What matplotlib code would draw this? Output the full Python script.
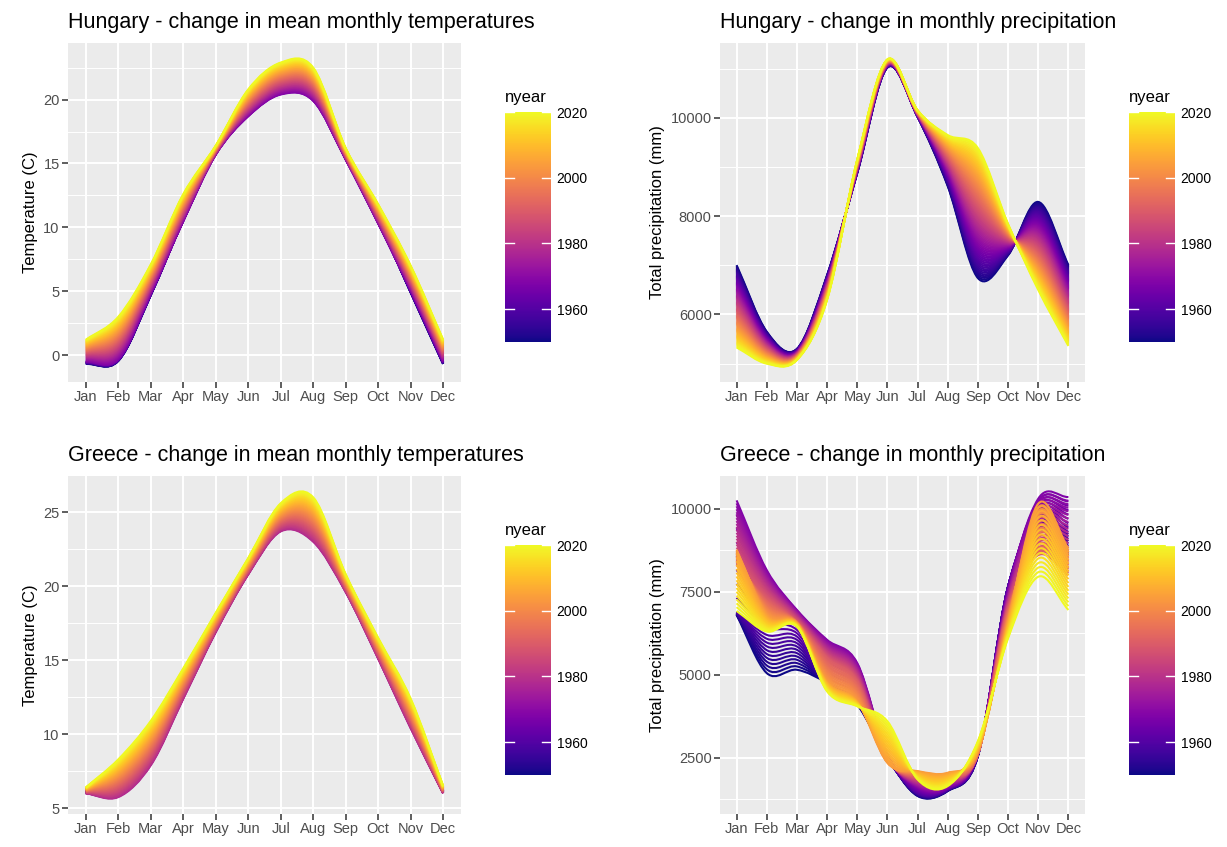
import numpy as np
import matplotlib.pyplot as plt
from matplotlib.path import Path
from matplotlib.patches import PathPatch
from matplotlib.ticker import MultipleLocator
from matplotlib.colors import Normalize
from matplotlib.cm import ScalarMappable

plt.rcParams['font.family'] = ['Liberation Sans', 'DejaVu Sans']

months = ["Jan", "Feb", "Mar", "Apr", "May", "Jun",
          "Jul", "Aug", "Sep", "Oct", "Nov", "Dec"]
month_num = np.arange(1, 13)
years = np.arange(1950, 2021)

# Hungary - mean monthly temperature (C), read at a few key years
hu_temp_years = [1950, 1968, 2020]
hu_temp_1950 = [-0.7, -0.45, 4.7, 10.6, 15.9, 19.0, 20.8, 20.3, 15.6, 10.6, 4.9, -0.7]
hu_temp_1968 = [-0.5, -0.3, 4.85, 10.5, 15.7, 18.7, 20.4, 19.9, 15.3, 10.3, 5.1, -0.5]
hu_temp_2020 = [1.2, 3.0, 7.1, 12.6, 16.4, 20.8, 22.9, 22.5, 16.2, 11.8, 7.0, 1.2]

# Hungary - total monthly precipitation (mm)
hu_prec_years = [1950, 2020]
hu_prec_1950 = [7005, 5650, 5300, 6800, 8880, 11025, 10020, 8610, 6740, 7205, 8290, 7005]
hu_prec_2020 = [5330, 5000, 5075, 6300, 9150, 11190, 10155, 9650, 9385, 7840, 6500, 5360]

# Greece - mean monthly temperature (C)
gr_temp_years = [1950, 1978, 2020]
gr_temp_1950 = [6.15, 6.7, 9.1, 13.2, 17.4, 21.2, 24.5, 24.2, 20.1, 15.7, 11.2, 6.2]
gr_temp_1978 = [6.0, 5.75, 7.9, 12.4, 16.9, 20.8, 23.7, 23.0, 19.6, 15.1, 10.4, 6.0]
gr_temp_2020 = [6.4, 8.3, 10.9, 14.45, 18.2, 21.9, 25.6, 26.0, 20.8, 16.5, 12.4, 6.5]

# Greece - total monthly precipitation (mm)
gr_prec_years = [1950, 1960, 1968, 1990, 2004, 2020]
gr_prec_1950 = [6800, 5050, 5150, 4750, 4100, 2500, 1350, 1500, 2550, 7650, 9300, 8600]
gr_prec_1960 = [6900, 6200, 6150, 4800, 4200, 2500, 1450, 1550, 2600, 7650, 9800, 9300]
gr_prec_1968 = [10250, 8150, 6950, 6050, 5350, 2600, 1600, 1600, 2650, 7500, 10300, 10350]
gr_prec_1990 = [8300, 7300, 6600, 5500, 4800, 2450, 1900, 1900, 2600, 7000, 8600, 8000]
gr_prec_2004 = [8770, 6800, 6550, 4800, 4200, 2350, 2100, 2050, 2700, 6600, 10150, 8800]
gr_prec_2020 = [6920, 6300, 6450, 4500, 4050, 3600, 1850, 1650, 3000, 6100, 7950, 6950]

cmap = plt.get_cmap('plasma')
norm = Normalize(1950, 2020)


def smooth_path(x, y):
    # Catmull-Rom through the monthly points, drawn as cubic Bezier segments
    pts = np.column_stack([np.asarray(x, float), np.asarray(y, float)])
    tan = np.empty_like(pts)
    tan[1:-1] = (pts[2:] - pts[:-2]) / 2
    tan[0] = pts[1] - pts[0]
    tan[-1] = pts[-1] - pts[-2]
    verts = [pts[0]]
    codes = [Path.MOVETO]
    for i in range(len(pts) - 1):
        verts += [pts[i] + tan[i] / 3, pts[i + 1] - tan[i + 1] / 3, pts[i + 1]]
        codes += [Path.CURVE4] * 3
    return Path(verts, codes)


def draw_panel(rect, crect, key_years, key_values, title, ylabel, yticks):
    ax = fig.add_axes(rect)
    key_values = np.array(key_values, float)
    curves = np.array([np.interp(years, key_years, key_values[:, m])
                       for m in range(12)]).T
    for yr, vals in zip(years, curves):
        ax.add_patch(PathPatch(smooth_path(month_num, vals), facecolor='none',
                               edgecolor=cmap(norm(yr)), lw=1.5))
    ax.margins(x=0.05, y=0.05)
    ax.autoscale_view()

    ax.set_facecolor('#EBEBEB')
    for s in ax.spines.values():
        s.set_visible(False)
    ax.set_xticks(month_num, months)
    ax.set_yticks(yticks)
    step = yticks[1] - yticks[0]
    ax.yaxis.set_minor_locator(MultipleLocator(step / 2))
    ax.grid(which='major', color='white', lw=1.4)
    ax.grid(which='minor', axis='y', color='white', lw=0.7)
    ax.set_axisbelow(True)
    ax.tick_params(which='major', length=4, width=1.1, color='#333333',
                   labelcolor='#4D4D4D', labelsize=10.5, pad=2)
    ax.tick_params(which='minor', length=0)
    ax.set_title(title, loc='left', fontsize=15.5, pad=11)
    ax.set_ylabel(ylabel, fontsize=12, labelpad=4)

    cax = fig.add_axes(crect)
    cb = fig.colorbar(ScalarMappable(norm=norm, cmap=cmap), cax=cax,
                      ticks=[1960, 1980, 2000, 2020])
    cb.outline.set_visible(False)
    cax.tick_params(length=0, labelsize=10, pad=4)
    for t in [1960, 1980, 2000, 2020]:
        cax.axhline(t, xmin=0, xmax=0.2, color='white', lw=1)
        cax.axhline(t, xmin=0.8, xmax=1, color='white', lw=1)
    cax.set_title('nyear', loc='left', fontsize=12, pad=7)
    return ax


W, H = 1227, 847
fig = plt.figure(figsize=(W / 100, H / 100), dpi=100)


def frac(x0, y0, x1, y1):
    return [x0 / W, 1 - y1 / H, (x1 - x0) / W, (y1 - y0) / H]


draw_panel(frac(68, 43, 461, 382), frac(505, 112, 551, 342),
           hu_temp_years, [hu_temp_1950, hu_temp_1968, hu_temp_2020],
           "Hungary - change in mean monthly temperatures", "Temperature (C)",
           [0, 5, 10, 15, 20])
draw_panel(frac(720, 43, 1085, 382), frac(1129, 112, 1175, 342),
           hu_prec_years, [hu_prec_1950, hu_prec_2020],
           "Hungary - change in monthly precipitation", "Total precipitation (mm)",
           [6000, 8000, 10000])
draw_panel(frac(68, 476, 461, 814), frac(505, 545, 551, 775),
           gr_temp_years, [gr_temp_1950, gr_temp_1978, gr_temp_2020],
           "Greece - change in mean monthly temperatures", "Temperature (C)",
           [5, 10, 15, 20, 25])
draw_panel(frac(720, 476, 1085, 814), frac(1129, 545, 1175, 775),
           gr_prec_years, [gr_prec_1950, gr_prec_1960, gr_prec_1968,
                           gr_prec_1990, gr_prec_2004, gr_prec_2020],
           "Greece - change in monthly precipitation", "Total precipitation (mm)",
           [2500, 5000, 7500, 10000])

fig.savefig('out.png', dpi=100)
